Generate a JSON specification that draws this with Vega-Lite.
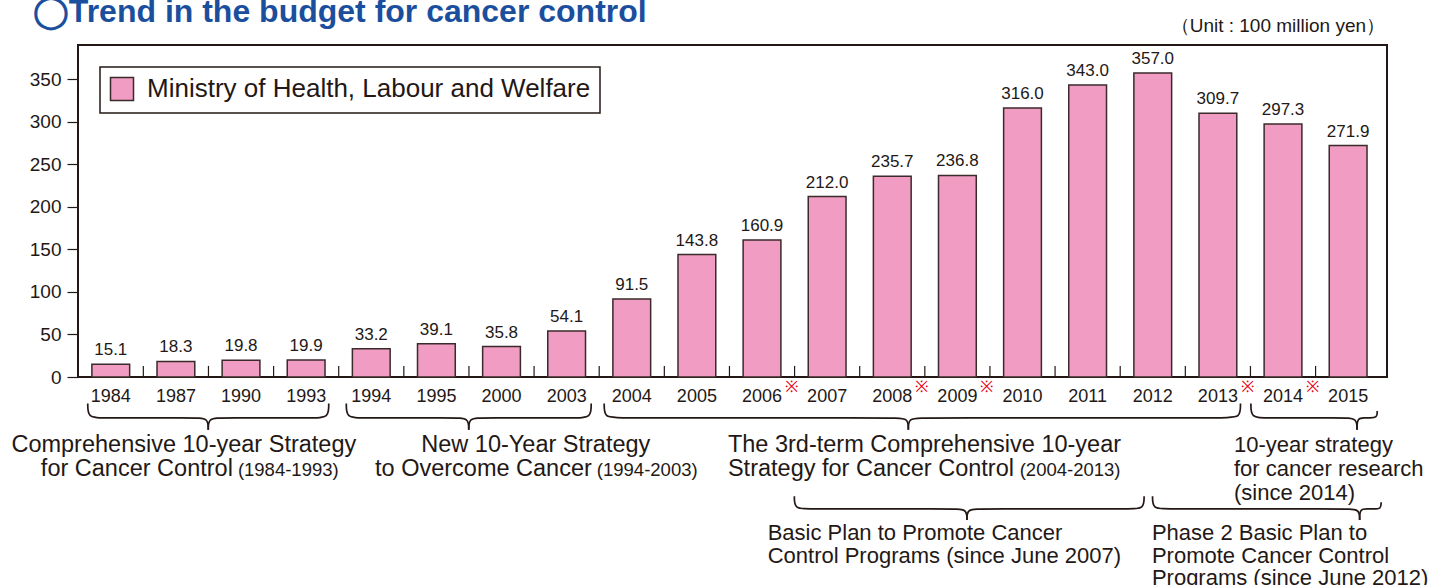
{
  "$schema": "https://vega.github.io/schema/vega-lite/v6.json",
  "autosize": {"type": "none"},
  "width": 1309,
  "height": 332,
  "padding": {"left": 78, "top": 45, "right": 42, "bottom": 208},
  "background": "white",
  "config": {
    "view": {"stroke": "#231815", "strokeWidth": 2},
    "font": "Liberation Sans",
    "text": {"font": "Liberation Sans", "color": "#231815"},
    "axis": {"labelColor": "#231815", "tickColor": "#231815", "labelFont": "Liberation Sans"},
    "legend": {
      "orient": "top-left",
      "offset": 22,
      "padding": 9,
      "strokeColor": "#231815",
      "strokeWidth": 1.5,
      "fillColor": "white",
      "symbolType": "square",
      "symbolSize": 529,
      "symbolStrokeColor": "#3a2a2a",
      "symbolStrokeWidth": 1.5,
      "symbolOpacity": 1,
      "labelFontSize": 26,
      "labelFont": "Liberation Sans",
      "labelColor": "#231815",
      "labelOffset": 12,
      "labelLimit": 0,
      "title": null
    }
  },
  "datasets": {
    "budget": [
      {"year": "1984", "value": 15.1, "mark": ""},
      {"year": "1987", "value": 18.3, "mark": ""},
      {"year": "1990", "value": 19.8, "mark": ""},
      {"year": "1993", "value": 19.9, "mark": ""},
      {"year": "1994", "value": 33.2, "mark": ""},
      {"year": "1995", "value": 39.1, "mark": ""},
      {"year": "2000", "value": 35.8, "mark": ""},
      {"year": "2003", "value": 54.1, "mark": ""},
      {"year": "2004", "value": 91.5, "mark": ""},
      {"year": "2005", "value": 143.8, "mark": ""},
      {"year": "2006", "value": 160.9, "mark": "※"},
      {"year": "2007", "value": 212.0, "mark": ""},
      {"year": "2008", "value": 235.7, "mark": "※"},
      {"year": "2009", "value": 236.8, "mark": "※"},
      {"year": "2010", "value": 316.0, "mark": ""},
      {"year": "2011", "value": 343.0, "mark": ""},
      {"year": "2012", "value": 357.0, "mark": ""},
      {"year": "2013", "value": 309.7, "mark": "※"},
      {"year": "2014", "value": 297.3, "mark": "※"},
      {"year": "2015", "value": 271.9, "mark": ""}
    ],
    "braces": [
      {"b": "B1L", "o": 0, "u": -0.35, "v": -31}, {"b": "B1L", "o": 1, "u": -0.35, "v": -48}, {"b": "B1L", "o": 2, "u": -0.13, "v": -48}, {"b": "B1L", "o": 3, "u": 1.28, "v": -48}, {"b": "B1L", "o": 4, "u": 1.5, "v": -48}, {"b": "B1L", "o": 5, "u": 1.5, "v": -62},
      {"b": "B1R", "o": 0, "u": 1.5, "v": -62}, {"b": "B1R", "o": 1, "u": 1.5, "v": -48}, {"b": "B1R", "o": 2, "u": 1.72, "v": -48}, {"b": "B1R", "o": 3, "u": 3.13, "v": -48}, {"b": "B1R", "o": 4, "u": 3.35, "v": -48}, {"b": "B1R", "o": 5, "u": 3.35, "v": -31},
      {"b": "B2L", "o": 0, "u": 3.62, "v": -31}, {"b": "B2L", "o": 1, "u": 3.62, "v": -48}, {"b": "B2L", "o": 2, "u": 3.84, "v": -48}, {"b": "B2L", "o": 3, "u": 5.28, "v": -48}, {"b": "B2L", "o": 4, "u": 5.5, "v": -48}, {"b": "B2L", "o": 5, "u": 5.5, "v": -62},
      {"b": "B2R", "o": 0, "u": 5.5, "v": -62}, {"b": "B2R", "o": 1, "u": 5.5, "v": -48}, {"b": "B2R", "o": 2, "u": 5.72, "v": -48}, {"b": "B2R", "o": 3, "u": 7.16, "v": -48}, {"b": "B2R", "o": 4, "u": 7.38, "v": -48}, {"b": "B2R", "o": 5, "u": 7.38, "v": -31},
      {"b": "B3L", "o": 0, "u": 7.58, "v": -31}, {"b": "B3L", "o": 1, "u": 7.58, "v": -48}, {"b": "B3L", "o": 2, "u": 7.8, "v": -48}, {"b": "B3L", "o": 3, "u": 12.03, "v": -48}, {"b": "B3L", "o": 4, "u": 12.25, "v": -48}, {"b": "B3L", "o": 5, "u": 12.25, "v": -62},
      {"b": "B3R", "o": 0, "u": 12.25, "v": -62}, {"b": "B3R", "o": 1, "u": 12.25, "v": -48}, {"b": "B3R", "o": 2, "u": 12.47, "v": -48}, {"b": "B3R", "o": 3, "u": 17.13, "v": -48}, {"b": "B3R", "o": 4, "u": 17.35, "v": -48}, {"b": "B3R", "o": 5, "u": 17.35, "v": -31},
      {"b": "B4L", "o": 0, "u": 17.51, "v": -31}, {"b": "B4L", "o": 1, "u": 17.51, "v": -48}, {"b": "B4L", "o": 2, "u": 17.73, "v": -48}, {"b": "B4L", "o": 3, "u": 18.92, "v": -48}, {"b": "B4L", "o": 4, "u": 19.14, "v": -48}, {"b": "B4L", "o": 5, "u": 19.14, "v": -62},
      {"b": "B4R", "o": 0, "u": 19.14, "v": -62}, {"b": "B4R", "o": 1, "u": 19.14, "v": -48}, {"b": "B4R", "o": 2, "u": 19.26, "v": -48}, {"b": "B4R", "o": 3, "u": 19.33, "v": -48}, {"b": "B4R", "o": 4, "u": 19.45, "v": -48}, {"b": "B4R", "o": 5, "u": 19.45, "v": -40},
      {"b": "B5L", "o": 0, "u": 10.5, "v": -140}, {"b": "B5L", "o": 1, "u": 10.5, "v": -155}, {"b": "B5L", "o": 2, "u": 10.72, "v": -155}, {"b": "B5L", "o": 3, "u": 12.93, "v": -155}, {"b": "B5L", "o": 4, "u": 13.15, "v": -155}, {"b": "B5L", "o": 5, "u": 13.15, "v": -168},
      {"b": "B5R", "o": 0, "u": 13.15, "v": -168}, {"b": "B5R", "o": 1, "u": 13.15, "v": -155}, {"b": "B5R", "o": 2, "u": 13.37, "v": -155}, {"b": "B5R", "o": 3, "u": 15.65, "v": -155}, {"b": "B5R", "o": 4, "u": 15.87, "v": -155}, {"b": "B5R", "o": 5, "u": 15.87, "v": -140},
      {"b": "B6L", "o": 0, "u": 16.0, "v": -140}, {"b": "B6L", "o": 1, "u": 16.0, "v": -155}, {"b": "B6L", "o": 2, "u": 16.22, "v": -155}, {"b": "B6L", "o": 3, "u": 18.96, "v": -155}, {"b": "B6L", "o": 4, "u": 19.18, "v": -155}, {"b": "B6L", "o": 5, "u": 19.18, "v": -168},
      {"b": "B6R", "o": 0, "u": 19.18, "v": -168}, {"b": "B6R", "o": 1, "u": 19.18, "v": -155}, {"b": "B6R", "o": 2, "u": 19.3, "v": -155}, {"b": "B6R", "o": 3, "u": 19.39, "v": -155}, {"b": "B6R", "o": 4, "u": 19.51, "v": -155}, {"b": "B6R", "o": 5, "u": 19.51, "v": -147}
    ]
  },
  "layer": [
    {
      "data": {"name": "budget"},
      "encoding": {
        "x": {
          "field": "year",
          "type": "nominal",
          "sort": null,
          "scale": {"paddingInner": 0.42, "paddingOuter": 0.26, "align": 0.41},
          "axis": {
            "title": null,
            "domain": false,
            "ticks": false,
            "labelAngle": 0,
            "labelFontSize": 18,
            "labelPadding": 10,
            "labelColor": "#231815"
          }
        },
        "y": {
          "field": "value",
          "type": "quantitative",
          "scale": {"domain": [0, 390], "nice": false, "zero": true},
          "axis": {
            "title": null,
            "values": [0, 50, 100, 150, 200, 250, 300, 350],
            "domain": false,
            "grid": false,
            "tickSize": 11,
            "tickWidth": 1.2,
            "labelFontSize": 19,
            "labelPadding": 6
          }
        }
      },
      "layer": [
        {
          "mark": {"type": "bar", "stroke": "#3a2a2a", "strokeWidth": 1.5, "opacity": 1},
          "encoding": {
            "color": {
              "datum": "Ministry of Health, Labour and Welfare",
              "type": "nominal",
              "scale": {"range": ["#f09cc3"]},
              "legend": {}
            }
          }
        },
        {
          "mark": {"type": "text", "baseline": "alphabetic", "dy": -9, "fontSize": 17, "color": "#231815"},
          "encoding": {"text": {"field": "value", "type": "quantitative", "format": ".1f"}}
        },
        {
          "mark": {"type": "rule", "stroke": "#231815", "strokeWidth": 1.2},
          "encoding": {
            "x": {"field": "year", "type": "nominal", "sort": null, "bandPosition": -0.362},
            "y": {"datum": 0},
            "y2": {"datum": 13}
          }
        },
        {
          "mark": {"type": "text", "baseline": "middle", "align": "center", "fontSize": 16, "color": "#e60012", "clip": false},
          "encoding": {
            "x": {"field": "year", "type": "nominal", "sort": null, "bandPosition": 1.28},
            "y": {"datum": -12},
            "text": {"field": "mark"}
          }
        }
      ]
    },
    {
      "encoding": {
        "x": {"type": "quantitative", "scale": {"domain": [-0.5, 19.6], "nice": false, "zero": false}, "axis": null}
      },
      "layer": [
        {
          "data": {"name": "braces"},
          "mark": {"type": "line", "interpolate": "basis", "stroke": "#231815", "strokeWidth": 1.7, "clip": false},
          "encoding": {
            "x": {"field": "u", "type": "quantitative"},
            "y": {"field": "v", "type": "quantitative", "title": null},
            "detail": {"field": "b"},
            "order": {"field": "o"}
          }
        },
        {
          "data": {"values": [{}]},
          "mark": {"type": "text", "align": "left", "baseline": "alphabetic", "fontSize": 32, "fontWeight": "bold", "color": "#1b4f9e", "clip": false},
          "encoding": {"x": {"datum": -1.193}, "y": {"datum": 417}, "text": {"value": "◯Trend in the budget for cancer control"}}
        },
        {
          "data": {"values": [{}]},
          "mark": {"type": "text", "align": "right", "baseline": "alphabetic", "fontSize": 19, "clip": false},
          "encoding": {"x": {"datum": 19.57}, "y": {"datum": 405}, "text": {"value": "（Unit : 100 million yen）"}}
        },
        {
          "data": {"values": [{}]},
          "mark": {"type": "text", "align": "center", "baseline": "alphabetic", "fontSize": 23.5, "clip": false},
          "encoding": {"x": {"datum": 1.125}, "y": {"datum": -88}, "text": {"value": "Comprehensive 10-year Strategy"}}
        },
        {
          "data": {"values": [{}]},
          "mark": {"type": "text", "align": "right", "baseline": "alphabetic", "fontSize": 23.5, "clip": false},
          "encoding": {"x": {"datum": 1.878}, "y": {"datum": -116}, "text": {"value": "for Cancer Control"}}
        },
        {
          "data": {"values": [{}]},
          "mark": {"type": "text", "align": "left", "baseline": "alphabetic", "fontSize": 18.5, "clip": false},
          "encoding": {"x": {"datum": 1.955}, "y": {"datum": -116}, "text": {"value": "(1984-1993)"}}
        },
        {
          "data": {"values": [{}]},
          "mark": {"type": "text", "align": "center", "baseline": "alphabetic", "fontSize": 23.5, "clip": false},
          "encoding": {"x": {"datum": 6.53}, "y": {"datum": -88}, "text": {"value": "New 10-Year Strategy"}}
        },
        {
          "data": {"values": [{}]},
          "mark": {"type": "text", "align": "right", "baseline": "alphabetic", "fontSize": 23.5, "clip": false},
          "encoding": {"x": {"datum": 7.39}, "y": {"datum": -116}, "text": {"value": "to Overcome Cancer"}}
        },
        {
          "data": {"values": [{}]},
          "mark": {"type": "text", "align": "left", "baseline": "alphabetic", "fontSize": 18.5, "clip": false},
          "encoding": {"x": {"datum": 7.467}, "y": {"datum": -116}, "text": {"value": "(1994-2003)"}}
        },
        {
          "data": {"values": [{}]},
          "mark": {"type": "text", "align": "left", "baseline": "alphabetic", "fontSize": 23.5, "clip": false},
          "encoding": {"x": {"datum": 9.48}, "y": {"datum": -88}, "text": {"value": "The 3rd-term Comprehensive 10-year"}}
        },
        {
          "data": {"values": [{}]},
          "mark": {"type": "text", "align": "left", "baseline": "alphabetic", "fontSize": 23.5, "clip": false},
          "encoding": {"x": {"datum": 9.48}, "y": {"datum": -116}, "text": {"value": "Strategy for Cancer Control"}}
        },
        {
          "data": {"values": [{}]},
          "mark": {"type": "text", "align": "left", "baseline": "alphabetic", "fontSize": 18.5, "clip": false},
          "encoding": {"x": {"datum": 13.96}, "y": {"datum": -116}, "text": {"value": "(2004-2013)"}}
        },
        {
          "data": {"values": [{}]},
          "mark": {"type": "text", "align": "left", "baseline": "alphabetic", "fontSize": 22, "lineHeight": 24, "clip": false},
          "encoding": {"x": {"datum": 17.25}, "y": {"datum": -88}, "text": {"value": ["10-year strategy", "for cancer research", "(since 2014)"]}}
        },
        {
          "data": {"values": [{}]},
          "mark": {"type": "text", "align": "left", "baseline": "alphabetic", "fontSize": 22, "lineHeight": 22.5, "clip": false},
          "encoding": {"x": {"datum": 10.09}, "y": {"datum": -191.5}, "text": {"value": ["Basic Plan to Promote Cancer", "Control Programs (since June 2007)"]}}
        },
        {
          "data": {"values": [{}]},
          "mark": {"type": "text", "align": "left", "baseline": "alphabetic", "fontSize": 22, "lineHeight": 22.5, "clip": false},
          "encoding": {"x": {"datum": 15.99}, "y": {"datum": -191.5}, "text": {"value": ["Phase 2 Basic Plan to", "Promote Cancer Control", "Programs (since June 2012)"]}}
        }
      ]
    }
  ],
  "resolve": {"scale": {"x": "independent"}, "axis": {"x": "independent"}}
}
